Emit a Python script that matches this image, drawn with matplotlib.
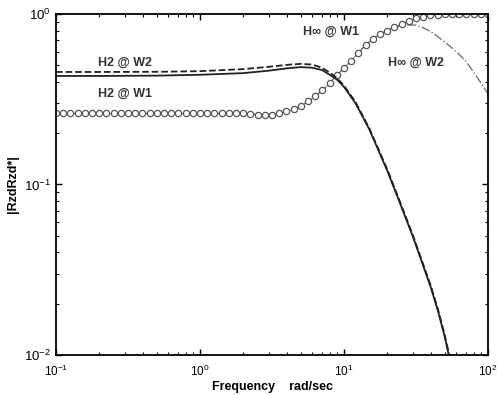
import numpy as np
import matplotlib
matplotlib.use("Agg")
import matplotlib.pyplot as plt

plt.rcParams['font.family'] = ['Liberation Sans', 'DejaVu Sans']

# H2 designs
freq_h2 = [0.1, 0.2, 0.5, 1, 2, 3, 4, 5, 6, 7, 8, 9, 10, 12, 15, 20, 25, 30, 40, 45, 50, 55]
h2_w1 = [0.433, 0.433, 0.435, 0.44, 0.45, 0.465, 0.48, 0.488, 0.484, 0.47, 0.439, 0.41,
         0.373, 0.30, 0.21, 0.12, 0.0741, 0.0497, 0.025, 0.018, 0.0128, 0.0089]
h2_w2 = [0.457, 0.457, 0.458, 0.462, 0.475, 0.49, 0.503, 0.51, 0.505, 0.485, 0.452, 0.418,
         0.38, 0.305, 0.213, 0.122, 0.0755, 0.0506, 0.0255, 0.0184, 0.0131, 0.0092]

# Hinf designs, 20 points per decade from 0.1 to 100 rad/sec
freq_hinf = np.logspace(-1, 2, 61)
hinf_w1 = [0.261] * 27 + [
    0.259, 0.257, 0.256, 0.257, 0.262, 0.268, 0.276, 0.288, 0.307, 0.329,
    0.356, 0.392, 0.438, 0.482, 0.532, 0.589, 0.662, 0.71, 0.762, 0.80,
    0.835, 0.869, 0.906, 0.942, 0.963, 0.98, 0.99, 0.995, 0.997, 0.998,
    0.999, 1.0, 1.0, 1.0]
hinf_w2 = [0.261] * 27 + [
    0.259, 0.257, 0.256, 0.257, 0.262, 0.268, 0.276, 0.288, 0.307, 0.329,
    0.356, 0.392, 0.438, 0.482, 0.532, 0.589, 0.662, 0.71, 0.762, 0.80,
    0.835, 0.855, 0.862, 0.86, 0.83, 0.79, 0.738, 0.684, 0.632, 0.578,
    0.523, 0.456, 0.395, 0.34]

fig = plt.figure(figsize=(4.97, 3.95), dpi=100)
ax = fig.add_axes([0.1127, 0.1013, 0.8693, 0.8633])

ax.loglog(freq_hinf, hinf_w2, color='#777777', ls='-.', lw=1.0)
ax.loglog(freq_hinf, hinf_w1, color='#666666', ls='-', lw=0.6,
          marker='o', ms=4.5, mfc='white', mec='#555555', mew=0.9)
ax.loglog(freq_h2, h2_w2, color='#222222', ls='--', lw=1.3)
ax.loglog(freq_h2, h2_w1, color='#222222', ls='-', lw=1.3)

ax.set_xlim(0.1, 100)
ax.set_ylim(0.01, 1)

txt = dict(fontsize=9, fontweight='bold', color='#333333', va='center')
ax.text(0.196, 0.52, 'H2 @ W2', **txt)
ax.text(0.196, 0.34, 'H2 @ W1', **txt)
ax.text(5.2, 0.784, 'H∞ @ W1', **txt)
ax.text(20.2, 0.52, 'H∞ @ W2', **txt)

ax.set_xlabel('Frequency    rad/sec', fontsize=9, fontweight='bold', labelpad=2)
ax.set_ylabel('|RzdRzd*|', fontsize=9, fontweight='bold', labelpad=4)

ax.tick_params(which='both', direction='in', top=True, right=True)
ax.tick_params(axis='y', labelsize=9.5)
ax.tick_params(axis='x', labelsize=8.5, pad=6)
ax.tick_params(which='major', length=4, width=1)
ax.tick_params(which='minor', length=2.5, width=0.8)
for s in ax.spines.values():
    s.set_linewidth(1.3)

fig.savefig('out.png', dpi=100)
